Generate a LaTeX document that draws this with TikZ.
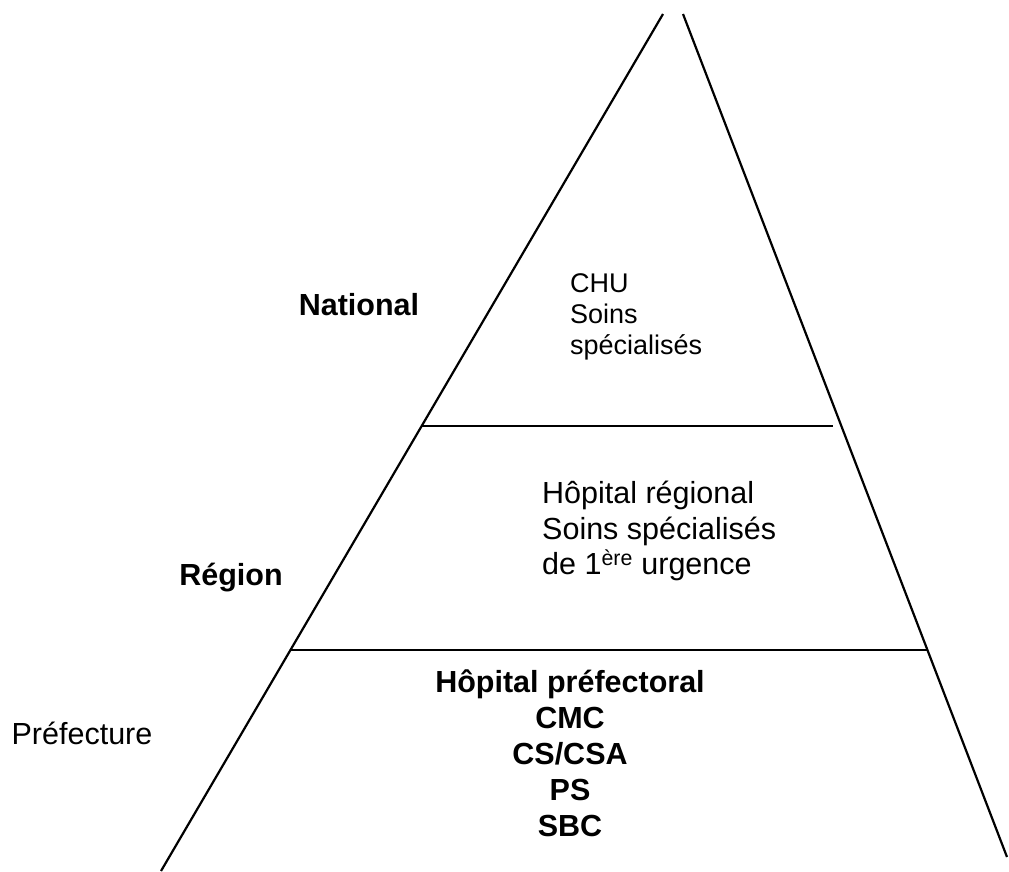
\documentclass[tikz,border=0pt]{standalone}
\usepackage{fontspec}
\setmainfont{Liberation Sans}
\usetikzlibrary{positioning}

\begin{document}
\begin{tikzpicture}[x=1pt, y=-1pt, every node/.style={inner sep=0pt, font=\fontsize{30.5}{35.5}\selectfont}, level/.style={font=\fontsize{30.5}{36}\selectfont\bfseries}, small/.style={font=\fontsize{27}{31}\selectfont}, side/.style={line width=2.2pt}, floor/.style={line width=2pt}]
    \useasboundingbox (0,0) rectangle (1009,871);

    % sides of the pyramid
    \coordinate (topL) at (663,14);
    \coordinate (baseL) at (161,871);
    \coordinate (topR) at (683,14);
    \coordinate (baseR) at (1007,857);
    \draw[side] (topL) -- (baseL);
    \draw[side] (topR) -- (baseR);

    % floors
    \coordinate (floor1L) at (422,426);
    \coordinate (floor1R) at (833,426);
    \coordinate (floor2L) at (290,650);
    \coordinate (floor2R) at (928,650);
    \draw[floor] (floor1L) -- (floor1R);
    \draw[floor] (floor2L) -- (floor2R);

    % levels
    \node[level] (national) at (359,305) {National};
    \node[level] (region) at (231,578) {Région};
    \node (prefecture) at (82,733) {Préfecture};

    % contents
    \node[small, align=left, anchor=west] (chu) at (570,317) {CHU\\Soins\\spécialisés};
    \node[align=left, anchor=west] (regional) at (542,531) {Hôpital régional\\Soins spécialisés\\de 1\textsuperscript{ère} urgence};
    \node[level, align=center] (prefectoral) at (570,753) {Hôpital préfectoral\\CMC\\CS/CSA\\PS\\SBC};
\end{tikzpicture}
\end{document}
